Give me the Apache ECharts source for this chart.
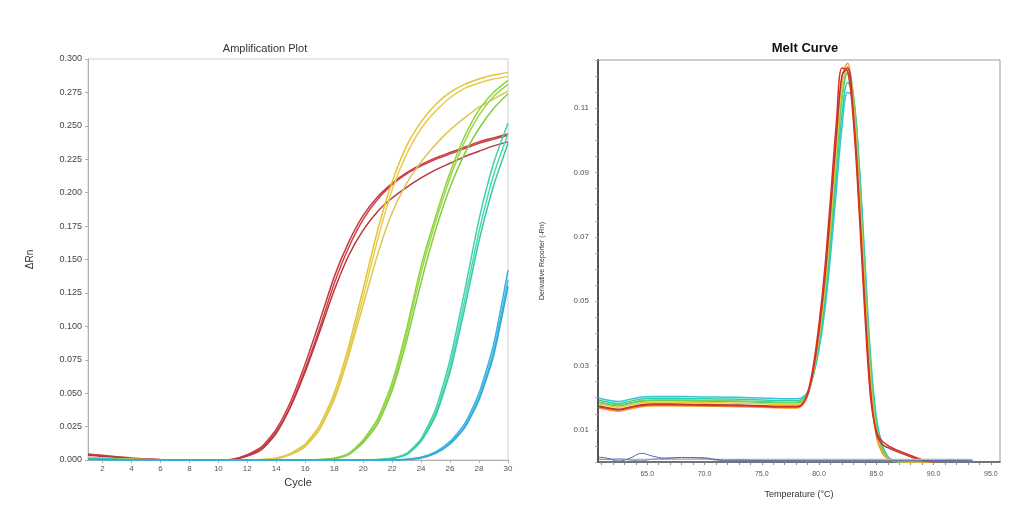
<!DOCTYPE html>
<html>
<head>
<meta charset="utf-8">
<script src="https://cdn.jsdelivr.net/npm/echarts@6/dist/echarts.min.js"></script>
<style>html,body{margin:0;padding:0;background:#fff}#c{width:1019px;height:509px}</style>
</head>
<body>
<div id="c"></div>
<script>
// ---------- Amplification plot data ----------
const cycles = [1,2,3,4,5,6,7,8,9,10,11,12,13,14,15,16,17,18,19,20,21,22,23,24,25,26,27,28,29,30];
const ampXTicks = [2,4,6,8,10,12,14,16,18,20,22,24,26,28,30];
const ampRed1 = [0.0045,0.0035,0.0025,0.0015,0.0008,0.0003,0.0001,0,0,0,0.0005,0.004,0.010,0.023,0.044,0.072,0.104,0.137,0.163,0.183,0.197,0.207,0.215,0.221,0.226,0.230,0.234,0.238,0.241,0.244];
const ampRed2 = [0.0040,0.0030,0.0020,0.0012,0.0006,0.0002,0,0,0,0,0.0004,0.0035,0.009,0.021,0.041,0.068,0.099,0.132,0.159,0.180,0.195,0.206,0.214,0.220,0.225,0.229,0.233,0.237,0.240,0.243];
const ampRed3 = [0.0035,0.0027,0.0018,0.0010,0.0005,0.0002,0,0,0,0,0.0003,0.003,0.008,0.020,0.040,0.066,0.096,0.127,0.153,0.172,0.186,0.196,0.204,0.211,0.217,0.222,0.227,0.231,0.235,0.238];
const ampYel1 = [0.0020,0.0015,0.0010,0.0006,0.0003,0.0001,0,0,0,0,0,0,0.0003,0.0015,0.005,0.012,0.026,0.050,0.085,0.128,0.172,0.208,0.235,0.253,0.266,0.275,0.281,0.285,0.288,0.290];
const ampYel2 = [0.0018,0.0013,0.0009,0.0005,0.0002,0.0001,0,0,0,0,0,0,0.0002,0.0012,0.0045,0.011,0.024,0.047,0.081,0.122,0.165,0.202,0.229,0.248,0.261,0.271,0.278,0.282,0.285,0.287];
const ampYel3 = [0.0016,0.0012,0.0008,0.0004,0.0002,0,0,0,0,0,0,0,0.0002,0.0010,0.004,0.010,0.023,0.045,0.078,0.116,0.154,0.185,0.207,0.223,0.236,0.247,0.256,0.264,0.270,0.276];
const ampGrn1 = [0.0012,0.0009,0.0006,0.0003,0.0001,0,0,0,0,0,0,0,0,0,0,0,0.0003,0.0015,0.005,0.015,0.031,0.058,0.098,0.145,0.182,0.215,0.242,0.262,0.275,0.284];
const ampGrn2 = [0.0010,0.0008,0.0005,0.0003,0.0001,0,0,0,0,0,0,0,0,0,0,0,0.0002,0.0012,0.0045,0.014,0.029,0.055,0.094,0.140,0.178,0.211,0.238,0.258,0.272,0.281];
const ampGrn3 = [0.0010,0.0007,0.0004,0.0002,0.0001,0,0,0,0,0,0,0,0,0,0,0,0.0002,0.0010,0.004,0.013,0.027,0.052,0.089,0.133,0.172,0.204,0.229,0.248,0.263,0.274];
const ampTea1 = [0.0010,0.0007,0.0004,0.0002,0,0,0,0,0,0,0,0,0,0,0,0,0,0,0,0,0.0003,0.0015,0.005,0.016,0.038,0.075,0.126,0.180,0.222,0.252];
const ampTea2 = [0.0008,0.0006,0.0003,0.0001,0,0,0,0,0,0,0,0,0,0,0,0,0,0,0,0,0.0002,0.0012,0.0045,0.015,0.035,0.070,0.119,0.171,0.213,0.244];
const ampTea3 = [0.0008,0.0005,0.0003,0.0001,0,0,0,0,0,0,0,0,0,0,0,0,0,0,0,0,0.0002,0.001,0.004,0.014,0.033,0.066,0.113,0.164,0.205,0.237];
const ampBlu1 = [0.0006,0.0004,0.0002,0.0001,0,0,0,0,0,0,0,0,0,0,0,0,0,0,0,0,0,0,0.0005,0.002,0.006,0.014,0.027,0.050,0.086,0.142];
const ampBlu2 = [0.0005,0.0003,0.0002,0.0001,0,0,0,0,0,0,0,0,0,0,0,0,0,0,0,0,0,0,0.0004,0.0018,0.0055,0.013,0.025,0.047,0.081,0.135];
const ampBlu3 = [0.0004,0.0003,0.0001,0,0,0,0,0,0,0,0,0,0,0,0,0,0,0,0,0,0,0,0.0003,0.0015,0.005,0.012,0.024,0.045,0.078,0.130];

// ---------- Melt curve data ----------
const meltTemps = [60.8,61.5,62.5,63.5,64.5,65.5,67,69,71,73,75,77,78,78.5,79,79.5,80,80.5,81,81.5,82,82.5,83,83.5,84,84.5,85,85.5,86,86.5,87,88,89,90];
const meltXTicks = [65,70,75,80,85,90,95];
const meltXMinor = [61,62,63,64,65,66,67,68,69,70,71,72,73,74,75,76,77,78,79,80,81,82,83,84,85,86,87,88,89,90,91,92,93,94,95];
const meltYTicks = [0.01,0.03,0.05,0.07,0.09,0.11];
const meltRed    = [0.0172,0.0167,0.0162,0.0169,0.0176,0.0178,0.0178,0.0177,0.0176,0.0175,0.0173,0.0171,0.0171,0.0178,0.0215,0.030,0.043,0.060,0.082,0.105,0.1225,0.1215,0.106,0.078,0.046,0.020,0.0095,0.0065,0.0052,0.0042,0.0034,0.002,0.0007,0];
const meltBrown  = [0.0174,0.0169,0.0164,0.0171,0.0178,0.0180,0.0180,0.0179,0.0178,0.0177,0.0175,0.0173,0.0173,0.0179,0.021,0.0285,0.041,0.057,0.078,0.101,0.120,0.1225,0.108,0.081,0.049,0.022,0.009,0.0055,0.0045,0.0037,0.003,0.0016,0.0004,0];
const meltOrange = [0.0168,0.0163,0.0158,0.0165,0.0172,0.0175,0.0175,0.0174,0.0173,0.0172,0.0170,0.0168,0.0168,0.0174,0.0205,0.028,0.040,0.056,0.077,0.100,0.120,0.124,0.110,0.083,0.051,0.023,0.008,0.003,0.0012,0.0005,0.0002,0,0,0];
const meltYellow = [0.0180,0.0175,0.0170,0.0177,0.0184,0.0186,0.0186,0.0185,0.0184,0.0183,0.0181,0.0179,0.0179,0.0184,0.021,0.028,0.039,0.054,0.074,0.097,0.117,0.123,0.111,0.085,0.053,0.025,0.009,0.003,0.001,0.0004,0.0001,0,0,0];
const meltLime   = [0.0187,0.0182,0.0177,0.0184,0.0191,0.0193,0.0193,0.0192,0.0191,0.0190,0.0188,0.0186,0.0186,0.0190,0.0212,0.0278,0.0385,0.053,0.072,0.094,0.114,0.1225,0.114,0.089,0.058,0.029,0.0115,0.0042,0.0013,0.0004,0.0001,0,0,0];
const meltGreen  = [0.0185,0.0180,0.0175,0.0182,0.0189,0.0191,0.0191,0.0190,0.0189,0.0188,0.0186,0.0184,0.0184,0.0188,0.0210,0.0275,0.038,0.052,0.071,0.093,0.113,0.121,0.113,0.088,0.057,0.028,0.011,0.004,0.0012,0.0004,0.0001,0,0,0];
const meltTeal   = [0.0192,0.0187,0.0182,0.0189,0.0196,0.0198,0.0198,0.0197,0.0196,0.0195,0.0193,0.0191,0.0191,0.0195,0.0215,0.027,0.036,0.049,0.067,0.088,0.108,0.118,0.114,0.092,0.061,0.031,0.013,0.005,0.0015,0.0005,0.0001,0,0,0];
const meltCyan   = [0.0198,0.0193,0.0188,0.0195,0.0202,0.0204,0.0204,0.0203,0.0202,0.0201,0.0199,0.0197,0.0197,0.0200,0.0218,0.027,0.035,0.047,0.064,0.084,0.104,0.115,0.113,0.093,0.063,0.033,0.014,0.0055,0.0017,0.0005,0.0001,0,0,0];
const ntcTemps = [60.8,61.5,62.5,63.5,64.5,65.5,66.5,68,70,71,72,73,74,76,80,84,88,92,93.4];
const ntc1 = [0.0015,0.0012,0.0003,0.0012,0.0027,0.0018,0.0012,0.0014,0.0013,0.0008,0.0005,0.0006,0.0005,0.0004,0.0004,0.0004,0.0004,0.0005,0.0004];
const ntc2 = [0.0009,0.0008,0.0010,0.0006,0.0004,0.0009,0.0011,0.0013,0.0011,0.0006,0.0004,0.0005,0.0004,0.0004,0.0003,0.0003,0.0003,0.0004,0.0003];
const ntcFlatTemps = [60.8,93.4];
const ntcFlat = [0.0008,0.0008];

const pair = (xs, ys) => xs.map((x, i) => [x, ys[i]]);

const ampSets = [
  [ampRed1,'#c83a44'],[ampRed2,'#d04048'],[ampRed3,'#b83640'],
  [ampYel1,'#e2c434'],[ampYel2,'#e8cc4c'],[ampYel3,'#dcc850'],
  [ampGrn1,'#8ed43c'],[ampGrn2,'#9ad84a'],[ampGrn3,'#84cc42'],
  [ampTea1,'#3ed2aa'],[ampTea2,'#48dab4'],[ampTea3,'#38c8a2'],
  [ampBlu1,'#38b0e0'],[ampBlu2,'#44bce8'],[ampBlu3,'#30a6d8']
];
const meltSets = [
  [meltCyan,'#38c2e0'],[meltTeal,'#2cd0a8'],[meltGreen,'#44c85a'],[meltLime,'#78d060'],
  [meltYellow,'#e4cc3c'],[meltOrange,'#f09a28'],[meltBrown,'#a83848'],[meltRed,'#e03020']
];

const series = [];
ampSets.forEach(([d,c]) => series.push({
  type:'line', xAxisIndex:0, yAxisIndex:0, data: pair(cycles,d), showSymbol:false,
  lineStyle:{color:c, width:1.5}, smooth:0.2, z:2
}));
series.push({type:'line', xAxisIndex:1, yAxisIndex:1, data: pair(ntcFlatTemps,ntcFlat), showSymbol:false, lineStyle:{color:'#b4b4bc', width:1.2}});
series.push({type:'line', xAxisIndex:1, yAxisIndex:1, data: pair(ntcTemps,ntc2), showSymbol:false, smooth:0.4, lineStyle:{color:'#8090b8', width:1}});
series.push({type:'line', xAxisIndex:1, yAxisIndex:1, data: pair(ntcTemps,ntc1), showSymbol:false, smooth:0.4, lineStyle:{color:'#5868a8', width:1}});
meltSets.forEach(([d,c]) => series.push({
  type:'line', xAxisIndex:1, yAxisIndex:1, data: pair(meltTemps,d), showSymbol:false,
  lineStyle:{color:c, width:1.5}, smooth:0.35, z:2
}));

const chart = echarts.init(document.getElementById('c'), null, {renderer:'canvas'});
chart.setOption({
  animation:false,
  backgroundColor:'#fff',
  title:[
    {text:'Amplification Plot', left:260, top:38, textAlign:'center',
     textStyle:{fontFamily:'Liberation Sans', fontSize:11, fontWeight:'normal', color:'#333'}},
    {text:'Melt Curve', left:800, top:37, textAlign:'center',
     textStyle:{fontFamily:'Liberation Sans', fontSize:13, fontWeight:'bold', color:'#111'}}
  ],
  grid:[
    {left:88, right:511, top:59, bottom:49, show:true, borderColor:'#cfcfcf', borderWidth:1},
    {left:598, right:19, top:60, bottom:47, show:true, borderColor:'#9a9a9a', borderWidth:1}
  ],
  xAxis:[
    {type:'value', gridIndex:0, min:1, max:30, interval:1,
     name:'Cycle', nameLocation:'middle', nameGap:17,
     nameTextStyle:{fontFamily:'Liberation Sans', fontSize:11, color:'#333'},
     axisLine:{lineStyle:{color:'#b0b0b0'}},
     axisTick:{customValues:ampXTicks, length:3, lineStyle:{color:'#b0b0b0'}},
     axisLabel:{customValues:ampXTicks, fontFamily:'Liberation Sans', fontSize:8, color:'#555', margin:5},
     splitLine:{show:false}},
    {type:'value', gridIndex:1, min:60.7, max:95.8,
     name:'Temperature (°C)', nameLocation:'middle', nameGap:28,
     nameTextStyle:{fontFamily:'Liberation Sans', fontSize:9, color:'#333'},
     axisLine:{lineStyle:{color:'#555', width:1.5}},
     axisTick:{customValues:meltXMinor, length:3, lineStyle:{color:'#888'}},
     axisLabel:{customValues:meltXTicks, formatter:v=>v.toFixed(1), fontFamily:'Liberation Sans', fontSize:7, color:'#555', margin:9},
     splitLine:{show:false}}
  ],
  yAxis:[
    {type:'value', gridIndex:0, min:0, max:0.3, interval:0.025,
     name:'ΔRn', nameLocation:'middle', nameGap:53,
     nameTextStyle:{fontFamily:'Liberation Sans', fontSize:10, color:'#333'},
     axisLine:{show:true, lineStyle:{color:'#b0b0b0'}},
     axisTick:{show:true, length:3, lineStyle:{color:'#b0b0b0'}},
     axisLabel:{formatter:v=>v.toFixed(3), fontFamily:'Liberation Sans', fontSize:9, color:'#444', margin:6},
     splitLine:{show:false}},
    {type:'value', gridIndex:1, min:0, max:0.125, interval:0.005,
     name:'Derivative Reporter (-Rn)', nameLocation:'middle', nameGap:52,
     nameTextStyle:{fontFamily:'Liberation Sans', fontSize:7, color:'#333'},
     axisLine:{show:true, lineStyle:{color:'#555', width:2}},
     axisTick:{show:true, length:3, lineStyle:{color:'#aaa'}},
     axisLabel:{customValues:meltYTicks, formatter:v=>v.toFixed(2), fontFamily:'Liberation Sans', fontSize:8, color:'#555', margin:9},
     splitLine:{show:false}}
  ],
  series: series
});
</script>
</body>
</html>
